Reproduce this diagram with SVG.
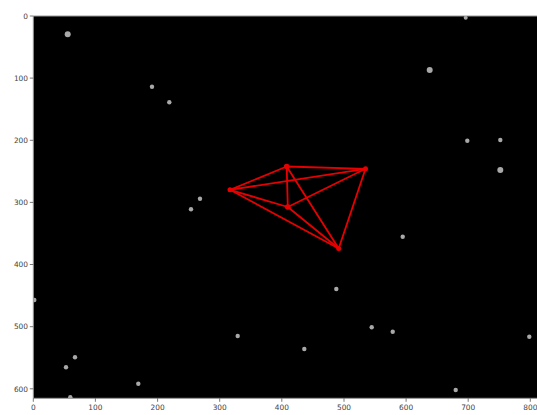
<svg xmlns="http://www.w3.org/2000/svg" width="537" height="415" viewBox="0 0 537 415">
<style>
.tk{stroke:#555;stroke-width:0.8}
.lbl{font-family:"DejaVu Sans",sans-serif;font-size:7.4px;fill:#444}
.star{fill:#a8a8a8}
.edge{stroke:#e80000;stroke-width:1.8;stroke-linecap:round;fill:none}
.node{fill:#e80000}
</style>
<defs>
<clipPath id="ax"><rect x="33.3" y="16" width="504" height="382.3"/></clipPath>
</defs>
<rect x="0" y="0" width="537" height="415" fill="#fff"/>
<rect x="33.3" y="16" width="504" height="382.3" fill="#000"/>
<g id="stars" clip-path="url(#ax)">
<circle class="star" cx="67.7" cy="34.3" r="3"/>
<circle class="star" cx="152" cy="86.7" r="2.2"/>
<circle class="star" cx="169.3" cy="102.3" r="2.2"/>
<circle class="star" cx="200" cy="198.7" r="2.2"/>
<circle class="star" cx="191" cy="209.2" r="2.2"/>
<circle class="star" cx="465.7" cy="17.8" r="2"/>
<circle class="star" cx="429.7" cy="70" r="3"/>
<circle class="star" cx="467.3" cy="140.7" r="2.2"/>
<circle class="star" cx="500.3" cy="140" r="2.2"/>
<circle class="star" cx="500.3" cy="170" r="3"/>
<circle class="star" cx="34.3" cy="300" r="2.2"/>
<circle class="star" cx="237.7" cy="336" r="2.2"/>
<circle class="star" cx="75" cy="357.3" r="2.2"/>
<circle class="star" cx="66" cy="367.3" r="2.2"/>
<circle class="star" cx="138.3" cy="383.7" r="2.2"/>
<circle class="star" cx="70.3" cy="397.3" r="2.2"/>
<circle class="star" cx="402.7" cy="236.7" r="2.2"/>
<circle class="star" cx="336.3" cy="289" r="2.2"/>
<circle class="star" cx="371.7" cy="327.3" r="2.2"/>
<circle class="star" cx="392.7" cy="331.7" r="2.2"/>
<circle class="star" cx="304.3" cy="349" r="2.2"/>
<circle class="star" cx="529.3" cy="336.7" r="2.2"/>
<circle class="star" cx="455.7" cy="390" r="2.2"/>
</g>
<g id="connectors">
<line class="edge" x1="286.7" y1="166.5" x2="365.5" y2="168.8"/>
<line class="edge" x1="286.7" y1="166.5" x2="230" y2="189.8"/>
<line class="edge" x1="286.7" y1="166.5" x2="287.8" y2="207"/>
<line class="edge" x1="286.7" y1="166.5" x2="338.7" y2="248.5"/>
<line class="edge" x1="365.5" y1="168.8" x2="230" y2="189.8"/>
<line class="edge" x1="365.5" y1="168.8" x2="287.8" y2="207"/>
<line class="edge" x1="365.5" y1="168.8" x2="338.7" y2="248.5"/>
<line class="edge" x1="230" y1="189.8" x2="287.8" y2="207"/>
<line class="edge" x1="230" y1="189.8" x2="338.7" y2="248.5"/>
<line class="edge" x1="287.8" y1="207" x2="338.7" y2="248.5"/>
</g>
<g id="nodeA"><circle class="node" cx="286.7" cy="166.5" r="2.8"/></g>
<g id="nodeB"><circle class="node" cx="365.5" cy="168.8" r="2.5"/></g>
<g id="nodeC"><circle class="node" cx="230" cy="189.8" r="2.5"/></g>
<g id="nodeD"><circle class="node" cx="287.8" cy="207" r="2.8"/></g>
<g id="nodeE"><circle class="node" cx="338.7" cy="248.5" r="2.5"/></g>
<g id="axes">
<line x1="33.3" y1="16" x2="537" y2="16" stroke="#999" stroke-width="1"/>
<line x1="33.3" y1="16" x2="33.3" y2="398.3" stroke="#999" stroke-width="1"/>
<line x1="33.3" y1="398.3" x2="537" y2="398.3" stroke="#999" stroke-width="1"/>
<g class="tk">
<line x1="29.8" y1="16" x2="33.3" y2="16"/>
<line x1="29.8" y1="78.1" x2="33.3" y2="78.1"/>
<line x1="29.8" y1="140.3" x2="33.3" y2="140.3"/>
<line x1="29.8" y1="202.4" x2="33.3" y2="202.4"/>
<line x1="29.8" y1="264.5" x2="33.3" y2="264.5"/>
<line x1="29.8" y1="326.7" x2="33.3" y2="326.7"/>
<line x1="29.8" y1="388.8" x2="33.3" y2="388.8"/>
<line x1="33.3" y1="398.3" x2="33.3" y2="401.8"/>
<line x1="95.4" y1="398.3" x2="95.4" y2="401.8"/>
<line x1="157.6" y1="398.3" x2="157.6" y2="401.8"/>
<line x1="219.7" y1="398.3" x2="219.7" y2="401.8"/>
<line x1="281.8" y1="398.3" x2="281.8" y2="401.8"/>
<line x1="344" y1="398.3" x2="344" y2="401.8"/>
<line x1="406.1" y1="398.3" x2="406.1" y2="401.8"/>
<line x1="468.2" y1="398.3" x2="468.2" y2="401.8"/>
<line x1="530.3" y1="398.3" x2="530.3" y2="401.8"/>
</g>
<g class="lbl" text-anchor="end">
<text x="28" y="18.7">0</text>
<text x="28" y="80.8">100</text>
<text x="28" y="143">200</text>
<text x="28" y="205.1">300</text>
<text x="28" y="267.2">400</text>
<text x="28" y="329.4">500</text>
<text x="28" y="391.5">600</text>
</g>
<g class="lbl" text-anchor="middle">
<text x="33.3" y="410">0</text>
<text x="95.4" y="410">100</text>
<text x="157.6" y="410">200</text>
<text x="219.7" y="410">300</text>
<text x="281.8" y="410">400</text>
<text x="344" y="410">500</text>
<text x="406.1" y="410">600</text>
<text x="468.2" y="410">700</text>
<text x="530.3" y="410">800</text>
</g>
</g>
</svg>
